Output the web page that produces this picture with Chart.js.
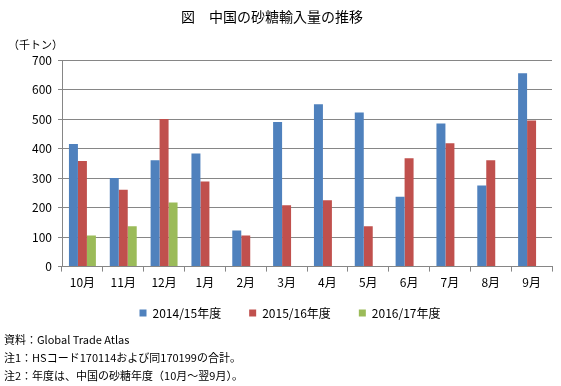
<!DOCTYPE html>
<html>
<head>
    <title>中国の砂糖輸入量の推移</title>
    <style>
        body { margin: 0; background: #fff; }
        #wrap { width: 561px; height: 386px; position: relative; }
    </style>
    <script src="https://cdn.jsdelivr.net/npm/chart.js@4/dist/chart.umd.min.js"></script>
</head>
<body>
    <div id="wrap">
        <canvas id="sugarChart" width="561" height="386"></canvas>
    </div>
    <script>
        const months = ['10月', '11月', '12月', '1月', '2月', '3月', '4月', '5月', '6月', '7月', '8月', '9月'];
        const season1415 = [415, 300, 360, 383, 122, 490, 550, 522, 237, 485, 275, 655];
        const season1516 = [358, 260, 500, 288, 105, 208, 225, 137, 367, 418, 360, 495];
        const season1617 = [105, 137, 217, null, null, null, null, null, null, null, null, null];
        const seriesNames = ['2014/15年度', '2015/16年度', '2016/17年度'];

        const fontJP = '"Noto Sans CJK JP", "Noto Sans", sans-serif';
        const gridColor = '#868686';

        // title, unit label and footnotes drawn as plain text on the canvas
        const textPlugin = {
            id: 'texts',
            afterLayout(chart) {
                // legend in the original sits a bit right of centre and close to the axis labels
                const lg = chart.legend;
                lg.left += 14;
                lg.right += 14;
                lg.top -= 15;
                lg.bottom -= 15;
            },
            afterDraw(chart) {
                const ctx = chart.ctx;
                ctx.save();
                ctx.fillStyle = '#000';
                ctx.textBaseline = 'middle';
                ctx.textAlign = 'left';
                ctx.font = '14px ' + fontJP;
                ctx.fillText('図　中国の砂糖輸入量の推移', 181, 17);
                ctx.font = '11px ' + fontJP;
                ctx.fillText('（千トン）', 8, 45);
                ctx.fillText('資料：Global Trade Atlas', 4, 340);
                ctx.fillText('注1：HSコード170114および同170199の合計。', 4, 358);
                ctx.fillText('注2：年度は、中国の砂糖年度（10月～翌9月）。', 4, 376);
                ctx.restore();
            }
        };

        const ctx = document.getElementById('sugarChart').getContext('2d');
        new Chart(ctx, {
            type: 'bar',
            data: {
                labels: months,
                datasets: [
                    { label: seriesNames[0], data: season1415, backgroundColor: '#4F81BD' },
                    { label: seriesNames[1], data: season1516, backgroundColor: '#C0504D' },
                    { label: seriesNames[2], data: season1617, backgroundColor: '#9BBB59' }
                ]
            },
            options: {
                responsive: false,
                animation: false,
                layout: { padding: { left: 0, top: 60, right: 9, bottom: 42 } },
                datasets: {
                    bar: { categoryPercentage: 0.66, barPercentage: 1.0 }
                },
                scales: {
                    y: {
                        min: 0,
                        max: 700,
                        ticks: {
                            stepSize: 100,
                            color: '#000',
                            padding: 6,
                            font: { size: 12, family: fontJP }
                        },
                        grid: { color: gridColor, tickLength: 4 },
                        border: { color: gridColor },
                        afterFit(scale) { scale.width = 62; }
                    },
                    x: {
                        ticks: {
                            color: '#000',
                            padding: 4,
                            font: { size: 12, family: fontJP }
                        },
                        grid: { offset: true, drawOnChartArea: false, color: gridColor, tickLength: 5 },
                        border: { color: gridColor }
                    }
                },
                plugins: {
                    legend: {
                        position: 'bottom',
                        labels: {
                            boxWidth: 7,
                            boxHeight: 7,
                            padding: 28,
                            color: '#000',
                            font: { size: 12, family: fontJP }
                        }
                    },
                    tooltip: { enabled: false }
                }
            },
            plugins: [textPlugin]
        });
    </script>
</body>
</html>
